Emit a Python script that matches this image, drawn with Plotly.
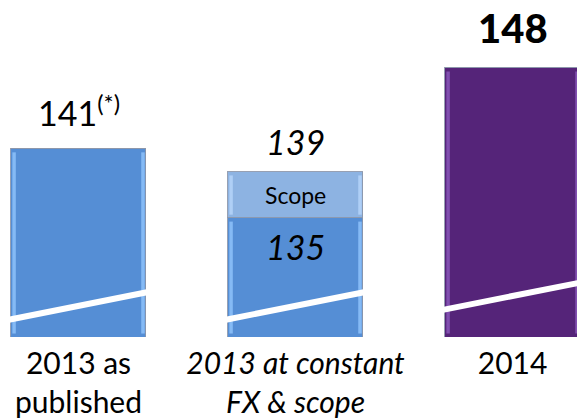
import plotly.graph_objects as go

# ---- data ----
categories = ["2013 as published", "2013 at constant FX & scope", "2014"]
tick_labels = ["2013 as<br>published", "<i>2013 at constant</i><br><i>FX &amp; scope</i>", "2014"]
base_values = [141, 135, 148]
scope_values = [0, 4, 0]
totals = [141, 139, 148]
value_labels = ["141<sup>(*)</sup>", "<i>139</i>", "148"]
scope_label = "Scope"
inner_label = "<i>135</i>"

# ---- styling ----
BLUE = "#558ed5"
PURPLE = "#552479"
SCOPE = "#8db3e2"
bar_colors = [BLUE, BLUE, PURPLE]
edge_colors = ["rgba(150,200,255,0.75)", "rgba(150,200,255,0.75)", "rgba(140,90,190,0.8)"]
FONT = "Lato"
y_min, y_max = 124.7, 153.9
bar_w = 0.622
break_left = [126.2, 126.2, 127.05]
break_right = [128.6, 128.6, 129.45]

x = list(range(len(categories)))

fig = go.Figure()
fig.add_trace(go.Bar(x=x, y=base_values, width=bar_w, marker=dict(color=bar_colors,
                     line=dict(color="rgba(140,150,170,0.9)", width=1)), showlegend=False))
fig.add_trace(go.Bar(x=x, y=scope_values, width=bar_w, marker=dict(color=SCOPE,
                     line=dict(color="rgba(140,150,170,0.9)", width=1)), showlegend=False))

shapes = []
strip = 0.022
for i in x:
    top = base_values[i]
    # bevel strips
    shapes.append(dict(type="rect", xref="x", yref="y", x0=i - bar_w / 2 + 0.006, x1=i - bar_w / 2 + strip,
                       y0=y_min + 0.3, y1=top - 0.3, fillcolor=edge_colors[i], line=dict(width=0), layer="above"))
    shapes.append(dict(type="rect", xref="x", yref="y", x0=i + bar_w / 2 - strip, x1=i + bar_w / 2 - 0.006,
                       y0=y_min + 0.3, y1=top - 0.3, fillcolor=edge_colors[i], line=dict(width=0), layer="above"))
    if scope_values[i]:
        shapes.append(dict(type="rect", xref="x", yref="y", x0=i - bar_w / 2 + 0.006, x1=i - bar_w / 2 + strip,
                           y0=top + 0.3, y1=top + scope_values[i] - 0.3, fillcolor="rgba(190,220,255,0.7)",
                           line=dict(width=0), layer="above"))
        shapes.append(dict(type="rect", xref="x", yref="y", x0=i + bar_w / 2 - strip, x1=i + bar_w / 2 - 0.006,
                           y0=top + 0.3, y1=top + scope_values[i] - 0.3, fillcolor="rgba(190,220,255,0.7)",
                           line=dict(width=0), layer="above"))
    # axis break marker
    shapes.append(dict(type="line", xref="x", yref="y", x0=i - bar_w / 2 - 0.01, x1=i + bar_w / 2 + 0.01,
                       y0=break_left[i], y1=break_right[i], line=dict(color="white", width=6), layer="above"))

annotations = []
for i in x:
    annotations.append(dict(x=i, y=totals[i], xref="x", yref="y", text=value_labels[i], showarrow=False,
                            yanchor="bottom", yshift=14 if i != 1 else 8,
                            font=dict(family=FONT, size=40 if i == 2 else 34, color="black",
                                      weight=900 if i == 2 else 400)))
annotations.append(dict(x=1, y=base_values[1] + scope_values[1] / 2, xref="x", yref="y", text=scope_label,
                        showarrow=False, font=dict(family=FONT, size=23, color="black")))
annotations.append(dict(x=1, y=base_values[1], xref="x", yref="y", text=inner_label, showarrow=False,
                        yanchor="top", yshift=-6, font=dict(family=FONT, size=34, color="black")))

fig.update_layout(
    width=577, height=419, margin=dict(l=0, r=0, t=0, b=80),
    paper_bgcolor="white", plot_bgcolor="white", barmode="stack", bargap=0,
    shapes=shapes, annotations=annotations,
    xaxis=dict(range=[-0.3618, 2.297], tickvals=x, ticktext=tick_labels, showgrid=False, zeroline=False,
               showline=False, ticks="", ticklabelstandoff=6,
               tickfont=dict(family=FONT, size=30, color="black")),
    yaxis=dict(range=[y_min, y_max], visible=False),
    font=dict(family=FONT),
)

fig.write_html("out.html")
